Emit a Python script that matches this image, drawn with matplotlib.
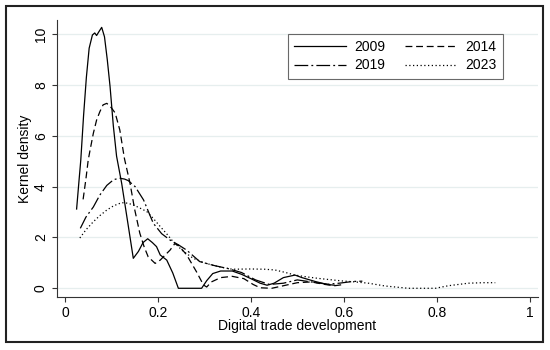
import matplotlib
matplotlib.use("Agg")
import matplotlib.pyplot as plt
from matplotlib.patches import Rectangle

plt.rcParams['font.family'] = ['Liberation Sans', 'DejaVu Sans']

# kernel density curves
x2009 = [0.025, 0.030, 0.034, 0.040, 0.046, 0.052, 0.059, 0.064, 0.068, 0.073, 0.079, 0.085,
         0.091, 0.097, 0.104, 0.111, 0.122, 0.135, 0.147, 0.158, 0.168, 0.178, 0.188, 0.197,
         0.205, 0.219, 0.232, 0.244, 0.294, 0.305, 0.318, 0.335, 0.36, 0.38, 0.40, 0.42,
         0.435, 0.45, 0.47, 0.495, 0.51, 0.54, 0.565, 0.58]
y2009 = [3.12, 4.2, 5.05, 6.8, 8.3, 9.45, 9.97, 10.05, 9.95, 10.1, 10.27, 9.9,
         9.0, 7.94, 6.4, 5.2, 4.13, 2.6, 1.18, 1.45, 1.8, 1.95, 1.8, 1.64,
         1.31, 1.11, 0.6, 0.0, 0.0, 0.3, 0.58, 0.68, 0.68, 0.55, 0.38, 0.2,
         0.12, 0.2, 0.42, 0.52, 0.42, 0.26, 0.15, 0.12]

x2014 = [0.039, 0.045, 0.050, 0.054, 0.061, 0.068, 0.075, 0.082, 0.090, 0.100, 0.108, 0.118,
         0.128, 0.140, 0.150, 0.161, 0.170, 0.179, 0.194, 0.205, 0.215, 0.226, 0.236, 0.244,
         0.262, 0.283, 0.298, 0.305, 0.315, 0.335, 0.36, 0.385, 0.405, 0.42, 0.445, 0.47,
         0.50, 0.53, 0.56, 0.58, 0.60]
y2014 = [3.5, 4.3, 5.05, 5.44, 6.1, 6.62, 6.95, 7.22, 7.28, 7.1, 6.9, 6.23,
         5.1, 4.13, 3.1, 2.17, 1.65, 1.24, 0.98, 1.11, 1.3, 1.5, 1.75, 1.7,
         1.31, 0.65, 0.13, 0.05, 0.25, 0.42, 0.47, 0.38, 0.15, 0.02, 0.0, 0.1,
         0.22, 0.25, 0.15, 0.1, 0.15]

x2019 = [0.033, 0.045, 0.061, 0.075, 0.090, 0.105, 0.118, 0.128, 0.136, 0.151, 0.169, 0.190,
         0.208, 0.226, 0.245, 0.262, 0.29, 0.32, 0.35, 0.38, 0.41, 0.44, 0.47, 0.50,
         0.53, 0.565, 0.59, 0.62, 0.64]
y2019 = [2.36, 2.8, 3.2, 3.67, 4.05, 4.28, 4.33, 4.3, 4.24, 4.0, 3.48, 2.56,
         2.15, 1.9, 1.7, 1.5, 1.05, 0.9, 0.78, 0.62, 0.33, 0.15, 0.2, 0.33,
         0.25, 0.16, 0.2, 0.27, 0.28]

x2023 = [0.032, 0.045, 0.061, 0.075, 0.090, 0.105, 0.122, 0.135, 0.147, 0.160, 0.176, 0.190,
         0.205, 0.220, 0.233, 0.255, 0.276, 0.30, 0.33, 0.36, 0.40, 0.43, 0.452, 0.475,
         0.495, 0.52, 0.545, 0.57, 0.596, 0.625, 0.653, 0.689, 0.739, 0.797, 0.825, 0.868,
         0.90, 0.926]
y2023 = [1.98, 2.3, 2.62, 2.86, 3.08, 3.25, 3.37, 3.35, 3.28, 3.17, 3.02, 2.75,
         2.43, 2.12, 1.83, 1.45, 1.18, 1.0, 0.85, 0.75, 0.76, 0.75, 0.72, 0.62,
         0.52, 0.45, 0.39, 0.34, 0.29, 0.25, 0.2, 0.09, 0.0, 0.0, 0.1, 0.2,
         0.22, 0.22]

years = ['2009', '2014', '2019', '2023']
styles = ['-', (0, (5.5, 3)), (0, (11, 2.5, 1.5, 2.5)), (0, (1, 2))]
xticks = [0, 0.2, 0.4, 0.6, 0.8, 1]
xticklabels = ['0', '0.2', '0.4', '0.6', '0.8', '1']
yticks = [0, 2, 4, 6, 8, 10]

fig = plt.figure(figsize=(5.5, 3.5), dpi=100)
ax = fig.add_axes([57 / 550, 1 - 297 / 350, 481 / 550, 277 / 350])

lines = []
for xs, ys, yr, ls in zip([x2009, x2014, x2019, x2023], [y2009, y2014, y2019, y2023], years, styles):
    ln, = ax.plot(xs, ys, color='black', lw=0.9, linestyle=ls, label=yr)
    lines.append(ln)

ax.set_xlim(-0.0172, 1.018)
ax.set_ylim(-0.343, 10.56)
ax.set_xticks(xticks)
ax.set_xticklabels(xticklabels)
ax.set_yticks(yticks)
ax.yaxis.grid(True, color='#e6eeee', lw=0.9)
ax.set_axisbelow(True)

for s in ['top', 'right']:
    ax.spines[s].set_visible(False)
for s in ['left', 'bottom']:
    ax.spines[s].set_color('#333333')
    ax.spines[s].set_linewidth(0.8)
ax.tick_params(direction='out', length=3.5, width=0.8, color='#333333', labelsize=10, pad=3)
ax.tick_params(axis='y', labelrotation=90)
for lbl in ax.get_yticklabels():
    lbl.set_va('center')

ax.set_xlabel('Digital trade development', fontsize=10)
ax.set_ylabel('Kernel density', fontsize=10)
ax.xaxis.set_label_coords(0.5, -0.08)
ax.yaxis.set_label_coords(-0.052, 0.5)

# row-wise order: 2009 2014 / 2019 2023
order = [0, 2, 1, 3]
leg = ax.legend([lines[i] for i in order], [years[i] for i in order],
                ncol=2, loc='upper left', bbox_to_anchor=(288 / 550, 1 - 34 / 350),
                bbox_transform=fig.transFigure, borderaxespad=0, fontsize=10,
                handlelength=3.75, handletextpad=0.6, columnspacing=1.4,
                frameon=True, fancybox=False, borderpad=0.45, labelspacing=0.3)
leg.get_frame().set_edgecolor('#444444')
leg.get_frame().set_linewidth(0.8)

# outer frame around the whole graph
fig.add_artist(Rectangle((6 / 550, 1 - 342 / 350), 537 / 550, 336 / 350,
                         transform=fig.transFigure, fill=False, ec='#222222', lw=1.5))

fig.savefig('out.png', dpi=100)
